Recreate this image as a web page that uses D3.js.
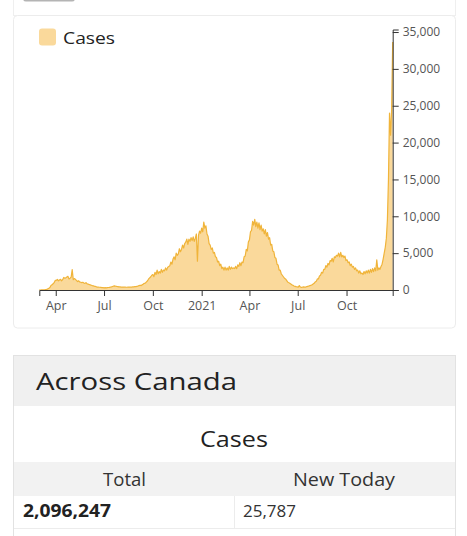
<!DOCTYPE html>
<html>
<head>
<meta charset="utf-8">
<script src="https://cdn.jsdelivr.net/npm/d3@7"></script>
<style>
  body { margin: 0; background: #fff; font-family: "Open Sans", sans-serif; }
  svg { display: block; }
  .axis path, .axis line { stroke: #333; }
  .axis text { fill: #555; font-size: 12px; font-family: "Open Sans", sans-serif; }
</style>
</head>
<body>
<div id="page"></div>
<script>
// daily new cases, sampled every 2 days starting 2020-03-01
var startDate = new Date(2020, 2, 1);
var stepDays = 2;
var cases2020 = [
  4, 3, 10, 6, 15, 25, 55, 85, 150, 230, 330, 600, 700, 850, 1000, 1300,
  1300, 1450, 1250, 1350, 1450, 1250, 1400, 1700, 1600, 1650, 1750, 1850, 1500, 1600, 1750,
  2760, 1400, 1550, 1450, 1300, 1150, 1250, 1100, 1050, 1000, 1050, 950, 900, 1000, 850,
  800, 750, 700, 650, 600, 560, 500, 480, 430, 400, 380, 370, 350, 330, 320,
  300, 310, 290, 320, 340, 360, 390, 420, 480, 520, 550, 510, 480, 460, 430, 420,
  380, 400, 410, 380, 390, 370, 380, 400, 410, 390, 400, 420, 430, 450, 460,
  480, 550, 600, 650, 600, 720, 800, 900, 950, 1100, 1250, 1500, 1650, 1800, 2000,
  2100, 1800, 2400, 2100, 2700, 2200, 2500, 2300, 2800, 2400, 2700, 2600, 3000, 2700, 3100, 3200,
  3300, 3800, 3500, 4200, 4500, 4100, 5000, 4700, 4900, 5600, 5200, 5500, 6100, 5700, 6300,
  6500, 6900, 6200, 6900, 6600, 7100, 6700, 7200, 6600, 7000, 7600, 3900, 7400, 8000, 7700
];
var cases2021 = [
  8400, 7900, 9200, 8400, 8700, 7600, 7300, 6300, 6100, 5500, 5700, 5000, 5100, 4500, 4400, 3800,
  3900, 3300, 3500, 2900, 3100, 2700, 3100, 2700, 3000, 2700, 3200, 2800, 3100, 2900,
  3000, 2900, 3200, 2900, 3400, 3200, 3700, 3300, 3800, 3700, 4500, 4600, 5500, 5300, 6500,
  6800, 7900, 8100, 9300, 8800, 9600, 8600, 9200, 8400, 9100, 8200, 8800, 8000, 8300, 7600,
  8200, 7300, 7800, 6900, 7100, 6100, 6200, 5300, 5200, 4400, 4300, 3500, 3400, 2700, 2700, 2200,
  2000, 1800, 1600, 1500, 1300, 1100, 1000, 900, 800, 700, 650, 550, 500, 450, 420,
  380, 600, 400, 350, 380, 420, 380, 400, 450, 500, 550, 600, 650, 700, 800,
  900, 1100, 1200, 1500, 1500, 1900, 2000, 2400, 2300, 2800, 2800, 3300, 3100, 3600, 3400, 4000,
  3900, 4300, 3800, 4500, 4400, 4700, 4600, 5000, 4500, 5100, 4500, 4700, 4400, 4600, 4000,
  4100, 3700, 3800, 3300, 3500, 3100, 3200, 2800, 3000, 2600, 2700, 2300, 2600, 2200, 2300,
  2100, 2500, 2200, 2600, 2300, 2700, 2300, 2800, 2400, 2900, 2500, 3000, 2600, 4100, 2700,
  3000, 2800, 3200, 3500, 4200, 5000, 5800, 7000, 9500, 15000, 24000, 21000, 24500, 33660
];
var xTickDates = ["2020-04-01", "2020-07-01", "2020-10-01", "2021-01-01", "2021-04-01", "2021-07-01", "2021-10-01"];
var xTickLabels = ["Apr", "Jul", "Oct", "2021", "Apr", "Jul", "Oct"];
var yTickValues = [0, 5000, 10000, 15000, 20000, 25000, 30000, 35000];
var seriesName = "Cases";
var totalCases = "2,096,247";
var newToday = "25,787";

var W = 467, H = 536;
var svg = d3.select("#page").append("svg")
    .attr("width", W)
    .attr("height", H);

// chart card frame
svg.append("rect")
    .attr("x", 23).attr("y", -6).attr("width", 52).attr("height", 7.5)
    .attr("rx", 3).attr("fill", "#b4b4b4");
svg.append("rect")
    .attr("x", 13.5).attr("y", -20).attr("width", 442).attr("height", 35.5)
    .attr("fill", "none").attr("stroke", "#efefef");
svg.append("rect")
    .attr("x", 13.5).attr("y", 15.5).attr("width", 442).attr("height", 312.5)
    .attr("rx", 4).attr("fill", "#fff").attr("stroke", "#ececec");

// chart
var margin = { top: 29.5, right: 74.3, bottom: 246, left: 39.3 };
var width = W - margin.left - margin.right;
var height = H - margin.top - margin.bottom;

var parse = d3.timeParse("%Y-%m-%d");
var data = cases2020.concat(cases2021).map(function (v, i) {
    return { date: d3.timeDay.offset(startDate, i * stepDays), value: v };
});

var x = d3.scaleTime()
    .domain(d3.extent(data, function (d) { return d.date; }))
    .range([0, width]);
var y = d3.scaleLinear()
    .domain([0, d3.max(data, function (d) { return d.value; }) * 1.05])
    .range([height, 0]);

var g = svg.append("g")
    .attr("transform", "translate(" + margin.left + "," + margin.top + ")");

var area = d3.area()
    .x(function (d) { return x(d.date); })
    .y0(height)
    .y1(function (d) { return y(d.value); });
var line = d3.line()
    .x(function (d) { return x(d.date); })
    .y(function (d) { return y(d.value); });

g.append("path")
    .datum(data)
    .attr("fill", "#fad99b")
    .attr("d", area);
g.append("path")
    .datum(data)
    .attr("fill", "none")
    .attr("stroke", "#f0b43a")
    .attr("stroke-width", 1.2)
    .attr("stroke-linejoin", "round")
    .attr("d", line);

// x-axis
g.append("g")
    .attr("class", "axis axis--x")
    .attr("transform", "translate(0," + height + ")")
    .call(d3.axisBottom(x)
        .tickValues(xTickDates.map(parse))
        .tickFormat(function (d, i) { return xTickLabels[i]; })
        .tickPadding(5))
    .selectAll("text").style("font-size", "12.5px");

// y-axis
g.append("g")
    .attr("class", "axis axis--y")
    .attr("transform", "translate(" + width + ",0)")
    .call(d3.axisRight(y)
        .tickValues(yTickValues)
        .tickFormat(d3.format(","))
        .tickPadding(4));

// legend
svg.append("rect")
    .attr("x", 39).attr("y", 28.5).attr("width", 17).attr("height", 17)
    .attr("rx", 3).attr("fill", "#fad99b");
svg.append("text")
    .attr("x", 63).attr("y", 43.5)
    .attr("font-size", 17).attr("fill", "#222")
    .attr("textLength", 52).attr("lengthAdjust", "spacingAndGlyphs")
    .text(seriesName);

// Across Canada card
var card = svg.append("g");
card.append("rect")
    .attr("x", 13.5).attr("y", 355.5).attr("width", 442).attr("height", 220)
    .attr("fill", "#fff").attr("stroke", "#e2e2e2");
card.append("rect")
    .attr("x", 14).attr("y", 356).attr("width", 441).attr("height", 50)
    .attr("fill", "#f0f0f0");
card.append("text")
    .attr("x", 36).attr("y", 390)
    .attr("font-size", 24).attr("font-weight", 500).attr("fill", "#222")
    .attr("textLength", 201).attr("lengthAdjust", "spacingAndGlyphs")
    .text("Across Canada");
card.append("text")
    .attr("x", 234).attr("y", 446.5).attr("text-anchor", "middle")
    .attr("font-size", 21).attr("font-weight", 500).attr("fill", "#222")
    .attr("textLength", 68).attr("lengthAdjust", "spacingAndGlyphs")
    .text(seriesName);
card.append("rect")
    .attr("x", 14).attr("y", 462).attr("width", 441).attr("height", 34)
    .attr("fill", "#f2f2f2");
card.append("text")
    .attr("x", 124.5).attr("y", 485.5).attr("text-anchor", "middle")
    .attr("font-size", 19).attr("fill", "#333")
    .attr("textLength", 43).attr("lengthAdjust", "spacingAndGlyphs")
    .text("Total");
card.append("text")
    .attr("x", 344).attr("y", 485.5).attr("text-anchor", "middle")
    .attr("font-size", 19).attr("fill", "#333")
    .attr("textLength", 102).attr("lengthAdjust", "spacingAndGlyphs")
    .text("New Today");
card.append("line")
    .attr("x1", 234.5).attr("x2", 234.5).attr("y1", 496).attr("y2", 528)
    .attr("stroke", "#ececec");
card.append("line")
    .attr("x1", 14).attr("x2", 455).attr("y1", 528.5).attr("y2", 528.5)
    .attr("stroke", "#ececec");
card.append("text")
    .attr("x", 23).attr("y", 517)
    .attr("font-size", 17.5).attr("font-weight", 700).attr("fill", "#222")
    .attr("textLength", 88).attr("lengthAdjust", "spacingAndGlyphs")
    .text(totalCases);
card.append("text")
    .attr("x", 243).attr("y", 517)
    .attr("font-size", 17).attr("fill", "#333")
    .attr("textLength", 53).attr("lengthAdjust", "spacingAndGlyphs")
    .text(newToday);
</script>
</body>
</html>
